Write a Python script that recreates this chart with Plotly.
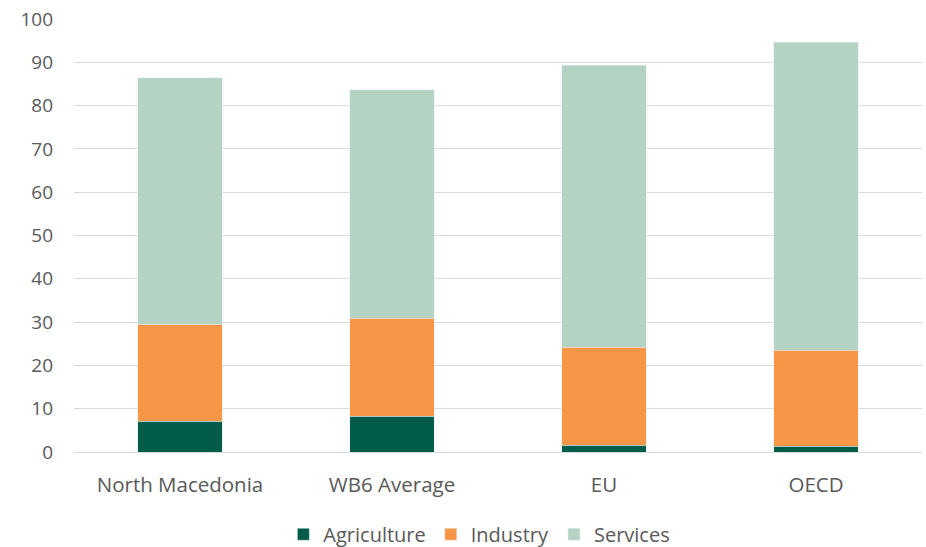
import plotly.graph_objects as go

categories = ["North Macedonia", "WB6 Average", "EU", "OECD"]
agriculture = [7.1, 8.2, 1.6, 1.3]
industry = [22.4, 22.7, 22.6, 22.2]
services = [56.9, 52.8, 65.1, 71.1]
y_ticks = list(range(0, 101, 10))

font_family = "'Open Sans', Carlito, Calibri, sans-serif"

fig = go.Figure()
fig.add_trace(go.Bar(name="Agriculture", x=categories, y=agriculture, marker_color="#005C48"))
fig.add_trace(go.Bar(name="Industry", x=categories, y=industry, marker_color="#F79646"))
fig.add_trace(go.Bar(name="Services", x=categories, y=services, marker_color="#B5D3C3"))

fig.update_layout(
    barmode="stack",
    bargap=0.6,
    width=926, height=547,
    margin=dict(l=74, r=4, t=19, b=95, autoexpand=False),
    paper_bgcolor="white", plot_bgcolor="white",
    font=dict(family=font_family, size=19, color="#595959"),
    legend=dict(orientation="h", x=0.478, xanchor="center", y=-0.19, yanchor="middle",
                font=dict(size=20), traceorder="normal", itemwidth=30),
    showlegend=True,
)
fig.update_yaxes(range=[0, 100], tickvals=y_ticks, showgrid=True, gridcolor="#D9D9D9",
                 gridwidth=1, zeroline=False, showline=False, ticks="", ticklabelstandoff=20,
                 automargin=False)
fig.update_xaxes(showline=True, linecolor="#D9D9D9", ticks="", ticklabelstandoff=14,
                 tickfont=dict(size=20.5), automargin=False)

fig.write_html("out.html")
